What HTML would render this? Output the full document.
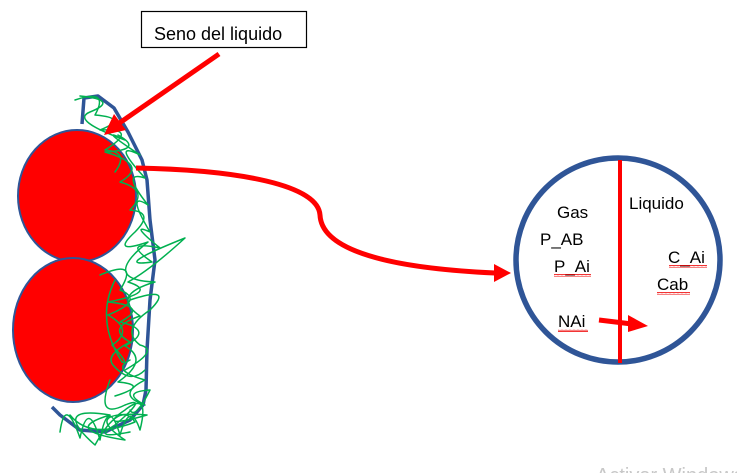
<!DOCTYPE html>
<html><head><meta charset="utf-8"><style>
html,body{margin:0;padding:0;background:#fff;width:737px;height:473px;overflow:hidden}
svg{display:block}
text{font-family:"Liberation Sans",sans-serif;fill:#000}
</style></head><body>
<svg width="737" height="473" viewBox="0 0 737 473">
  <defs>
    <pattern id="squig" width="4" height="3" patternUnits="userSpaceOnUse">
      <path d="M0,2 L1,0.5 L2,2 L3,0.5 L4,2" stroke="#e00" stroke-width="0.8" fill="none"/>
    </pattern>
  </defs>
  <g>
    <rect x="141.5" y="11.5" width="165" height="36" fill="#fff" stroke="#000" stroke-width="1.2"/>
    <svg x="141" y="11" width="165" height="34" overflow="hidden">
      <text x="13" y="29" font-size="18">Seno del liquido</text>
    </svg>
  </g>
  <path d="M82,124 L84,98 L98,96 L114,108 L128,132 L142,160 L147,180 L150,220 L155,260 L150,300 L147,350 L146,390 L143,405 L130,420 L105,432 L80,430 L60,415 L52,407" fill="none" stroke="#2f5597" stroke-width="3.5" stroke-linejoin="round"/>
  <ellipse cx="77" cy="196" rx="59" ry="66" fill="#ff0000" stroke="#2f5597" stroke-width="2"/>
  <ellipse cx="73" cy="330" rx="60" ry="72" fill="#ff0000" stroke="#2f5597" stroke-width="2"/>
  <g fill="none" stroke="#00b050" stroke-width="1.5" stroke-linejoin="round" stroke-linecap="round">
    <path d="M80,96 Q120,100 90,112 Q70,120 125,140 Q95,125 140,155 Q110,140 145,178 Q120,170 148,205 Q125,190 150,232 Q128,222 160,248 Q120,240 152,262 Q110,268 185,238 Q150,270 128,282 Q160,292 108,302 Q150,306 120,322 Q155,330 125,346 Q150,360 118,382 Q150,385 115,396"/>
    <path d="M118,135 Q145,150 105,152 Q150,165 120,182 Q150,190 130,210 Q155,212 135,232 Q110,255 148,242 Q100,280 155,282 Q110,295 140,316 Q105,328 130,342 Q105,355 113,365 Q130,385 145,370"/>
    <path d="M75,100 Q110,88 95,115 Q130,118 100,130 Q140,128 105,150 Q130,152 115,172"/>
    <path d="M60,432 Q65,395 80,438 Q88,398 100,440 Q108,395 120,435 Q130,400 140,430 Q150,390 125,410 Q95,430 147,415 Q80,410 125,440 Q60,430 110,415 Q50,405 95,445 Q120,400 135,422 Q90,440 70,415"/>
    <path d="M130,360 Q110,370 145,380 Q115,395 145,405 Q120,392 150,390 Q135,420 130,410"/>
    <path d="M100,275 Q140,258 120,290 Q145,300 108,315 Q135,330 112,345 Q130,365 122,362 Q95,320 115,280"/>
    <path d="M130,300 Q175,285 150,310 Q120,330 140,345 Q160,350 125,370"/>
    <path d="M110,380 Q95,420 125,405 Q150,395 115,425 Q90,440 130,432"/>
  </g>
  <g>
    <line x1="219" y1="54" x2="118" y2="124" stroke="#ff0000" stroke-width="5"/>
    <polygon points="104,135 114,114 126,130" fill="#ff0000"/>
  </g>
  <g>
    <path d="M136,168 C240,170 318,185 320,215 C322,260 430,270 495,273" fill="none" stroke="#ff0000" stroke-width="5"/>
    <polygon points="494,264 511,273 494,282" fill="#ff0000"/>
  </g>
  <circle cx="618" cy="260" r="102" fill="#fff" stroke="#2f5597" stroke-width="5.5"/>
  <line x1="620" y1="160" x2="620" y2="363" stroke="#ff0000" stroke-width="4"/>
  <g font-size="17">
    <text x="557" y="218">Gas</text>
    <text x="540" y="245">P_AB</text>
    <text x="554" y="272">P_Ai</text>
    <text x="558" y="327">NAi</text>
    <text x="629" y="209">Liquido</text>
    <text x="668" y="263">C_Ai</text>
    <text x="657" y="290">Cab</text>
  </g>
  <rect x="554" y="274" width="37" height="3" fill="url(#squig)"/>
  <rect x="558" y="329" width="30" height="3" fill="url(#squig)"/>
  <rect x="669" y="265" width="38" height="3" fill="url(#squig)"/>
  <rect x="657" y="292" width="33" height="3" fill="url(#squig)"/>
  <g>
    <line x1="599" y1="320" x2="632" y2="324" stroke="#ff0000" stroke-width="5"/>
    <polygon points="628,315 648,326 628,332" fill="#ff0000"/>
  </g>
  <text x="596" y="482" font-size="20" style="fill:#c8c8c8">Activar Windows</text>
</svg>
</body></html>
